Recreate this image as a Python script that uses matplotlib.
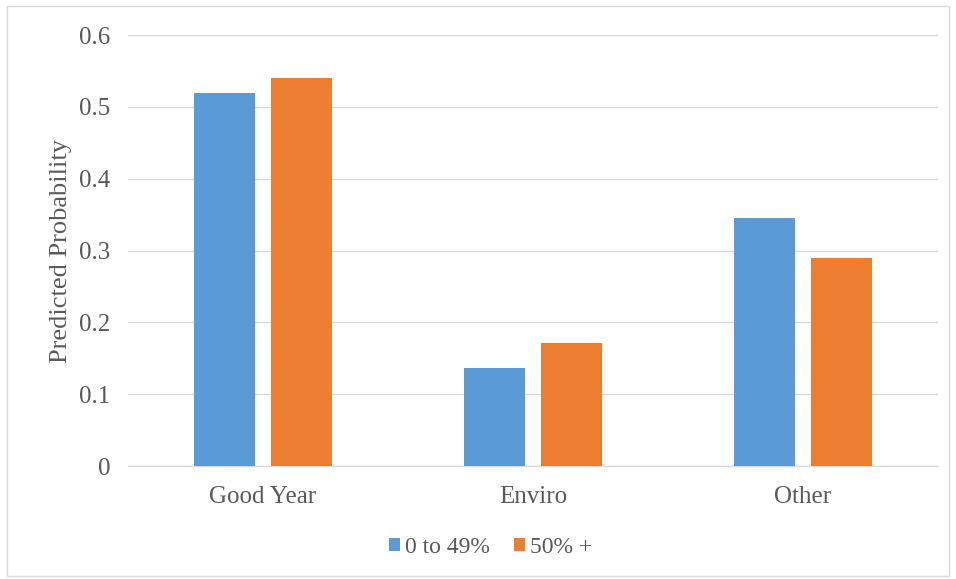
import matplotlib.pyplot as plt
import numpy as np
from matplotlib.patches import Rectangle

plt.rcParams['font.family'] = ['Liberation Serif', 'DejaVu Serif']

categories = ['Good Year', 'Enviro', 'Other']
series_names = ['0 to 49%', '50% +']
low_share = [0.52, 0.137, 0.345]
high_share = [0.54, 0.172, 0.29]
y_ticks = [0, 0.1, 0.2, 0.3, 0.4, 0.5, 0.6]
y_tick_labels = ['0', '0.1', '0.2', '0.3', '0.4', '0.5', '0.6']

blue = '#5b9bd5'
orange = '#ed7d31'
text_grey = '#595959'
grid_grey = '#d9d9d9'

fig = plt.figure(figsize=(9.56, 5.79), dpi=100)
ax = fig.add_axes([0.134, 0.195, 0.847, 0.7445])

# thin frame around the whole chart
fig.patches.append(Rectangle((0.007, 0.005), 0.986, 0.985, transform=fig.transFigure,
                             fill=False, edgecolor='#d9d9d9', linewidth=1))

x = np.arange(len(categories))
w = 0.226
ax.bar(x - 0.144, low_share, w, color=blue, label=series_names[0], zorder=3)
ax.bar(x + 0.144, high_share, w, color=orange, label=series_names[1], zorder=3)

ax.set_xlim(-0.5, 2.5)
ax.set_ylim(0, 0.6)
ax.set_yticks(y_ticks)
ax.set_yticklabels(y_tick_labels)
ax.set_xticks(x)
ax.set_xticklabels(categories)
ax.yaxis.grid(True, color=grid_grey, linewidth=1, zorder=0)
ax.set_axisbelow(True)
for side in ['top', 'right', 'left']:
    ax.spines[side].set_visible(False)
ax.spines['bottom'].set_color(grid_grey)
ax.spines['bottom'].set_linewidth(1)
ax.tick_params(axis='both', length=0, labelsize=18, colors=text_grey)
ax.tick_params(axis='y', pad=13)
ax.tick_params(axis='x', pad=14)
ax.set_ylabel('Predicted Probability', fontsize=19, color=text_grey, labelpad=5)

fig.legend(loc='center', bbox_to_anchor=(0.513, 0.055), ncol=2, frameon=False,
           fontsize=17, labelcolor=text_grey, handlelength=0.5, handleheight=0.5,
           handletextpad=0.2, columnspacing=1.0)

fig.savefig('out.png', dpi=100)
